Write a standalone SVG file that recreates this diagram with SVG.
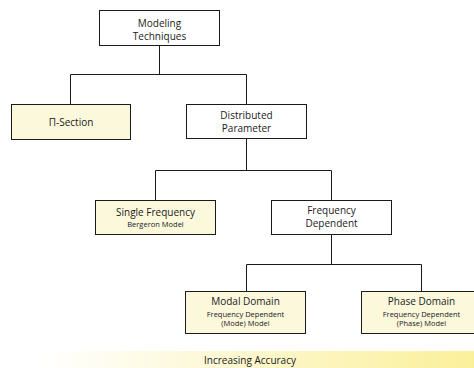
<svg xmlns="http://www.w3.org/2000/svg" width="474" height="368" viewBox="0 0 474 368">
<style>
.box{fill:#ffffff;stroke:#1a1a1a;stroke-width:1}
.yb{fill:#fcf8dc;stroke:#1a1a1a;stroke-width:1}
.t{font-family:"Open Sans","Noto Sans",sans-serif;font-size:10px;fill:#1a1a1a;text-anchor:middle}
.s{font-family:"Open Sans","Noto Sans",sans-serif;font-size:7.5px;fill:#1a1a1a;text-anchor:middle}
.c{fill:none;stroke:#1a1a1a;stroke-width:1}
</style>
<defs>
<linearGradient id="g" x1="0" y1="0" x2="1" y2="0">
<stop offset="0" stop-color="#ffffff"/>
<stop offset="0.4" stop-color="#fdf8d6"/>
<stop offset="1" stop-color="#fbf09a"/>
</linearGradient>
</defs>
<rect x="40" y="351" width="434" height="17" fill="url(#g)"/>
<text class="t" x="250" y="364">Increasing Accuracy</text>
<g id="connectors">
<path class="c" d="M159.5 45V74.5M70.5 104V74.5H246.5V104"/>
<path class="c" d="M246.5 139V170.5M155.5 200V170.5H331.5V200"/>
<path class="c" d="M331.5 234V264.5M246.5 291V264.5H421.5V291"/>
</g>
<g id="modeling-techniques">
<rect class="box" x="99.5" y="10.5" width="120" height="35"/>
<text class="t" x="159.5" y="26.5">Modeling</text>
<text class="t" x="159.5" y="39.5">Techniques</text>
</g>
<g id="pi-section">
<rect class="yb" x="11.5" y="104.5" width="119" height="35"/>
<text class="t" x="71" y="125.5">Π-Section</text>
</g>
<g id="distributed-parameter">
<rect class="box" x="186.5" y="104.5" width="120" height="34"/>
<text class="t" x="246.5" y="118.5">Distributed</text>
<text class="t" x="246.5" y="131.5">Parameter</text>
</g>
<g id="single-frequency">
<rect class="yb" x="95.5" y="200.5" width="120" height="34"/>
<text class="t" x="155.5" y="216">Single Frequency</text>
<text class="s" x="155.5" y="226.5">Bergeron Model</text>
</g>
<g id="frequency-dependent">
<rect class="box" x="271.5" y="200.5" width="120" height="34"/>
<text class="t" x="331.5" y="214">Frequency</text>
<text class="t" x="331.5" y="227">Dependent</text>
</g>
<g id="modal-domain">
<rect class="yb" x="185.5" y="291.5" width="120" height="42"/>
<text class="t" x="245.5" y="305">Modal Domain</text>
<text class="s" x="245.5" y="316.5">Frequency Dependent</text>
<text class="s" x="245.5" y="325.5">(Mode) Model</text>
</g>
<g id="phase-domain">
<rect class="yb" x="361.5" y="291.5" width="120" height="42"/>
<text class="t" x="421.5" y="305">Phase Domain</text>
<text class="s" x="421.5" y="316.5">Frequency Dependent</text>
<text class="s" x="421.5" y="325.5">(Phase) Model</text>
</g>
</svg>
